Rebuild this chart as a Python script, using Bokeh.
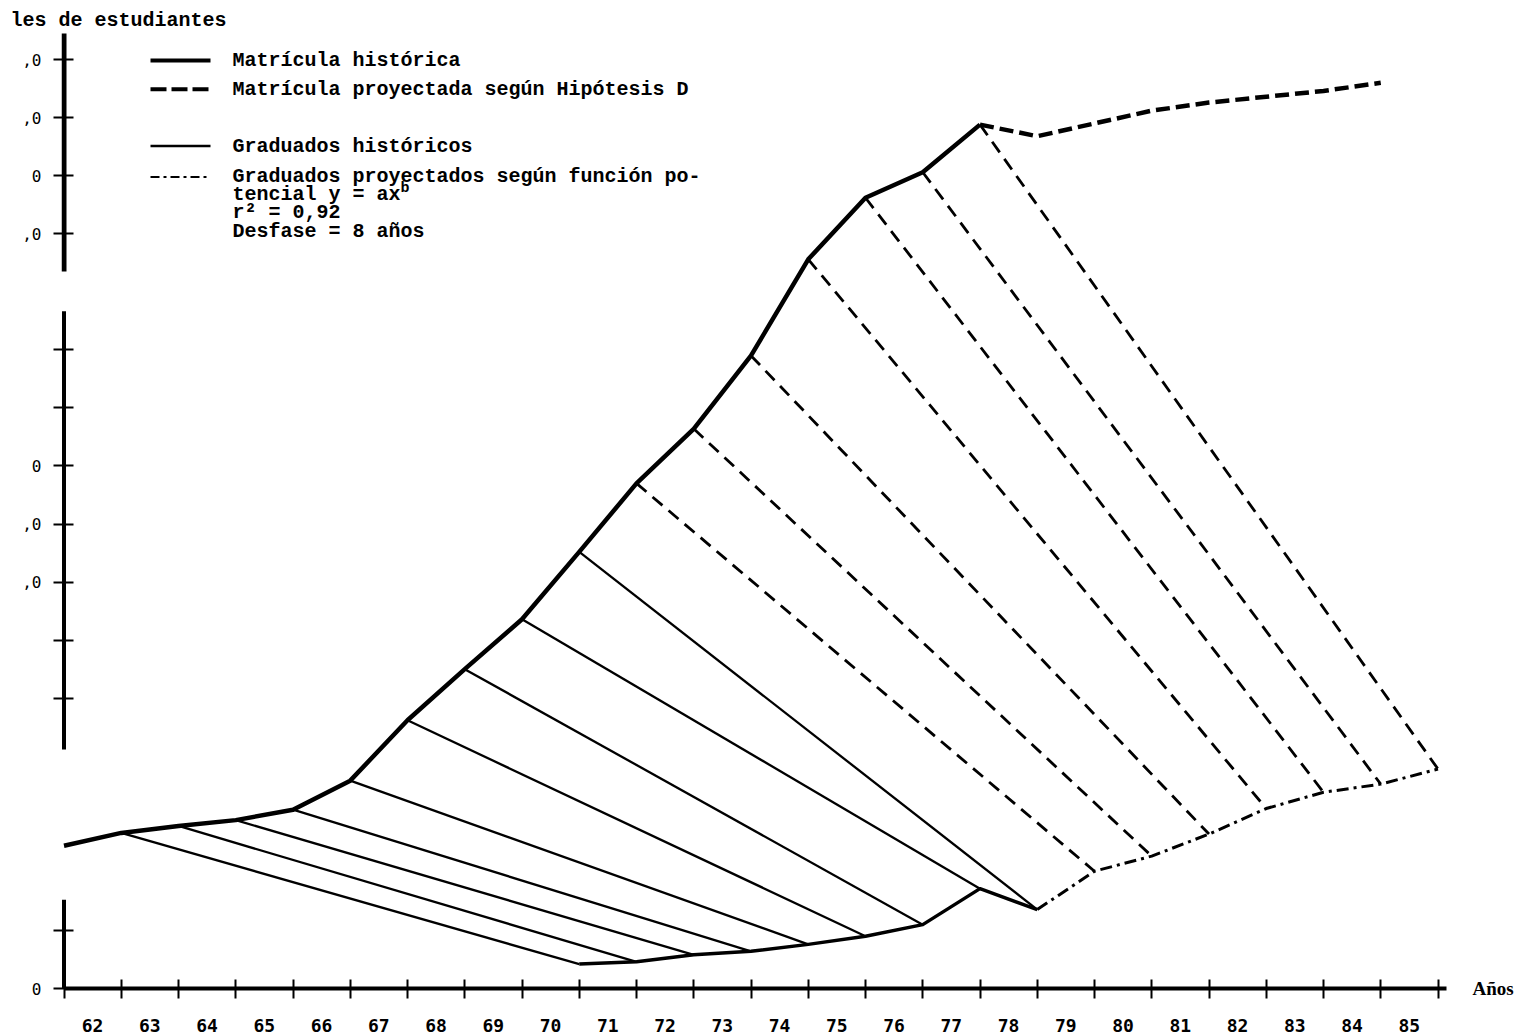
from bokeh.plotting import figure
from bokeh.models import Label, FixedTicker, Range1d, LinearAxis
from bokeh.embed import file_html
from bokeh.resources import INLINE

# ---------------- data (miles de estudiantes) ----------------
enrol_hist_years = list(range(62, 79))            # Matrícula histórica 1962-1978
enrol_hist = [12.3, 13.4, 14.0, 14.5, 15.4, 17.9, 23.1, 27.5, 31.8,
              37.6, 43.5, 48.2, 54.5, 62.8, 68.1, 70.3, 74.4]
enrol_proj_years = list(range(78, 86))            # Matrícula proyectada (Hipótesis D)
enrol_proj = [74.4, 73.4, 74.5, 75.6, 76.3, 76.8, 77.3, 78.0]
grad_hist_years = list(range(71, 80))             # Graduados históricos
grad_hist = [2.1, 2.3, 2.9, 3.2, 3.8, 4.5, 5.5, 8.6, 6.8]
grad_proj_years = list(range(79, 87))             # Graduados proyectados
grad_proj = [6.8, 10.1, 11.4, 13.3, 15.5, 16.9, 17.6, 18.9]
lag = 8                                           # Desfase = 8 años

year_labels = list(range(62, 86))
y_ticks = [0, 5, 25, 30, 35, 40, 45, 50, 55, 65, 70, 75, 80]
y_tick_text = {0: "0", 5: "", 25: "", 30: "", 35: ",0", 40: ",0", 45: "0",
               50: "", 55: "", 65: ",0", 70: "0", 75: ",0", 80: ",0"}

# ---------------- layout (page pixels) ----------------
W, H = 1520, 1034
PX_YEAR = 57.25      # px per year
PX_UNIT = 11.66      # px per unit
X_ORG = 63.5         # page px of year 62 (y axis line)
Y_ORG = 992          # page px of value 0 (x axis line)
FL, FR, FT = 61, 1465, 32   # frame left / right / top


def dx(px):
    return 62 + (px - X_ORG) / PX_YEAR


def dy(py):
    return (Y_ORG - py) / PX_UNIT


p = figure(width=W, height=H, output_backend="svg", toolbar_location=None,
           x_range=Range1d(dx(FL), dx(FR)),
           y_range=Range1d(0, dy(FT)),
           min_border_left=FL, min_border_right=W - FR, min_border_top=FT,
           min_border_bottom=H - Y_ORG)
p.grid.visible = False
p.outline_line_color = None
p.background_fill_color = "white"
p.border_fill_color = "white"

# title (cut at the left edge in the original)
p.title.text = "les de estudiantes"
p.title.align = "left"
p.title.offset = 10 - FL
p.title.standoff = 2
p.title.text_font = "Liberation Mono"
p.title.text_font_size = "20px"
p.title.text_font_style = "bold"
p.title.text_color = "black"

# x axis
xa = p.xaxis[0]
xa.ticker = FixedTicker(ticks=[y + 0.5 for y in year_labels],
                        minor_ticks=list(range(62, 87)))
xa.major_label_overrides = {y + 0.5: str(y) for y in year_labels}
xa.major_tick_in = 0
xa.major_tick_out = 0
xa.minor_tick_in = 9
xa.minor_tick_out = 10
xa.minor_tick_line_width = 2
xa.minor_tick_line_color = "black"
xa.axis_line_width = 4
xa.axis_line_color = "black"
xa.bounds = (62, 86.15)
xa.major_label_standoff = 20
xa.major_label_text_font = "DejaVu Sans Mono"
xa.major_label_text_font_style = "bold"
xa.major_label_text_font_size = "18px"
xa.major_label_text_color = "black"

# y axis (line drawn separately because it is broken)
ya = p.yaxis[0]
ya.ticker = FixedTicker(ticks=y_ticks)
ya.major_label_overrides = y_tick_text
ya.axis_line_color = None
ya.major_tick_in = 12
ya.major_tick_out = 8
ya.major_tick_line_width = 2
ya.major_tick_line_color = "black"
ya.minor_tick_line_color = None
ya.major_label_standoff = 12
ya.major_label_text_font = "DejaVu Sans Mono"
ya.major_label_text_font_size = "16px"
ya.major_label_text_color = "black"

# "Años" at the end of the x axis
ra = LinearAxis(ticker=FixedTicker(ticks=[0]), major_label_overrides={0: "Años"},
                axis_line_color=None, major_tick_line_color=None,
                minor_tick_line_color=None, major_tick_in=0, major_tick_out=0,
                major_label_standoff=7, major_label_text_font="Liberation Serif",
                major_label_text_font_size="19px", major_label_text_font_style="bold",
                major_label_text_color="black")
p.add_layout(ra, "right")

axis_breaks = [(dy(33), dy(272), 5), (dy(312), dy(752), 4), (dy(903), 0, 4)]
for top, bot, lw in axis_breaks:
    p.line([62, 62], [bot, top], line_width=lw, color="black")

# ---------------- links enrollment(t) -> graduates(t+lag) ----------------
enrol = dict(zip(enrol_hist_years, enrol_hist))
grad = dict(zip(grad_hist_years, grad_hist))
grad.update(dict(zip(grad_proj_years, grad_proj)))

solid_src = [y for y in enrol_hist_years if (y + lag) in grad_hist_years]
dash_src = [y for y in enrol_hist_years
            if (y + lag) in grad_proj_years and (y + lag) not in grad_hist_years]

p.segment(x0=solid_src, y0=[enrol[y] for y in solid_src],
          x1=[y + lag for y in solid_src], y1=[grad[y + lag] for y in solid_src],
          line_width=2.3, color="black")
p.segment(x0=dash_src, y0=[enrol[y] for y in dash_src],
          x1=[y + lag for y in dash_src], y1=[grad[y + lag] for y in dash_src],
          line_width=2.8, color="black", line_dash="13 8")

# ---------------- main series ----------------
p.line(enrol_hist_years, enrol_hist, line_width=4.5, color="black", line_join="round")
p.line(enrol_proj_years, enrol_proj, line_width=4.5, color="black", line_dash="14 6")
p.line(grad_hist_years, grad_hist, line_width=3.5, color="black", line_join="round")
p.line(grad_proj_years, grad_proj, line_width=3, color="black", line_dash="12 5 3 5")

# ---------------- legend (hand drawn, as in the original) ----------------
FONT = "Liberation Mono"
leg_x0, leg_x1, leg_tx = dx(150), dx(210), dx(232)
p.line([leg_x0, leg_x1], [dy(60)] * 2, line_width=4, color="black")
p.line([leg_x0, leg_x1], [dy(89)] * 2, line_width=4, color="black", line_dash="16 5")
p.line([leg_x0, leg_x1], [dy(146)] * 2, line_width=2.5, color="black")
p.line([leg_x0, leg_x1], [dy(177)] * 2, line_width=2, color="black", line_dash="9 4 3 4")

texts = [("Matrícula histórica", 60),
         ("Matrícula proyectada según Hipótesis D", 89),
         ("Graduados históricos", 146),
         ("Graduados proyectados según función po-", 177),
         ("tencial y = ax", 195),
         ("r² = 0,92", 213),
         ("Desfase = 8 años", 232)]
for t, py in texts:
    p.add_layout(Label(x=leg_tx, y=dy(py), text=t, text_font=FONT,
                       text_font_size="20px", text_font_style="bold",
                       text_baseline="middle", text_color="black"))
p.add_layout(Label(x=dx(232 + 14 * 12), y=dy(189), text="b", text_font=FONT,
                   text_font_size="15px", text_font_style="bold",
                   text_baseline="middle", text_color="black"))

open("out.html", "w").write(file_html(p, INLINE))
